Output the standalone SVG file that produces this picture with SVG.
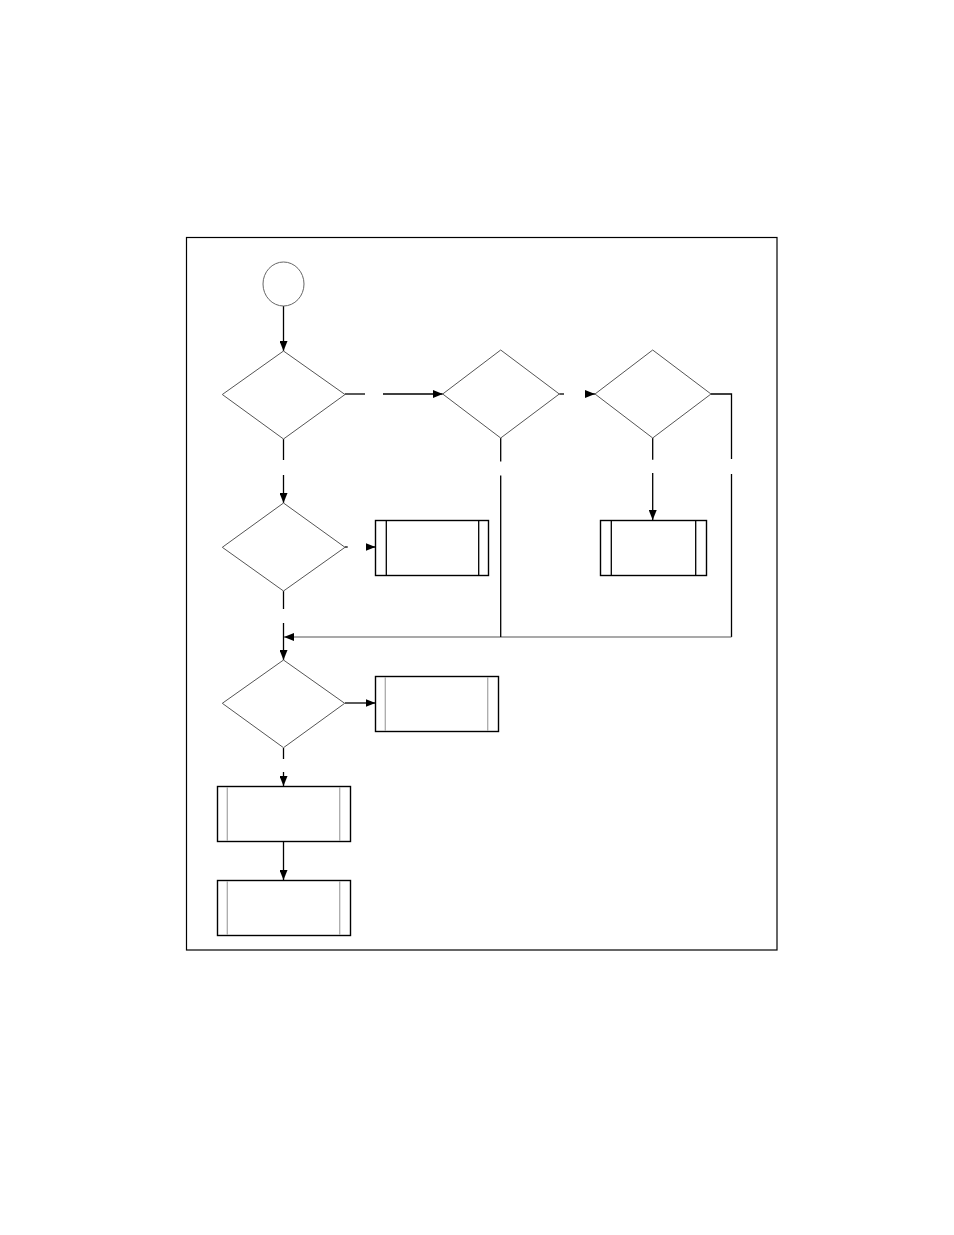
<svg xmlns="http://www.w3.org/2000/svg" width="954" height="1235" viewBox="0 0 954 1235">
<style>
.frame{fill:none;stroke:#000;stroke-width:1.2}
.dia{fill:#fff;stroke:#555;stroke-width:1}
.circ{fill:#fff;stroke:#666;stroke-width:1}
.box{fill:#fff;stroke:#000;stroke-width:1.4}
.inb{stroke:#000;stroke-width:1.3}
.ing{stroke:#aaa;stroke-width:1.3}
.c{fill:none;stroke:#000;stroke-width:1.3}
.cg{fill:none;stroke:#555;stroke-width:1.2}
</style>
<defs>
<marker id="ah" markerUnits="userSpaceOnUse" markerWidth="10" markerHeight="8" refX="10" refY="4" orient="auto">
<path d="M0,0 L10,4 L0,8 z" fill="#000"/>
</marker>
</defs>
<rect width="954" height="1235" fill="#fff"/>
<rect class="frame" x="186.5" y="237.5" width="590.5" height="712.5"/>
<g id="connectors">
<path class="c" d="M283.5,306 V351" marker-end="url(#ah)"/>
<path class="c" d="M345,394 H365"/>
<path class="c" d="M383,394 H442.7" marker-end="url(#ah)"/>
<path class="c" d="M559.3,394 H564"/>
<path class="c" d="M586,394 H595" marker-end="url(#ah)"/>
<path class="c" d="M711,394 H731.5 V459"/>
<path class="c" d="M731.5,474 V637"/>
<path class="cg" d="M731.5,637 H284" marker-end="url(#ah)"/>
<path class="c" d="M500.7,438 V461.5"/>
<path class="c" d="M500.7,475.5 V637"/>
<path class="c" d="M652.7,438 V459.7"/>
<path class="c" d="M652.7,473 V520" marker-end="url(#ah)"/>
<path class="c" d="M283.5,439 V460"/>
<path class="c" d="M283.5,475 V503" marker-end="url(#ah)"/>
<path class="c" d="M345,547 H347.7"/>
<path class="c" d="M366,547 H375.5" marker-end="url(#ah)"/>
<path class="c" d="M283.5,591 V609"/>
<path class="c" d="M283.5,623 V660" marker-end="url(#ah)"/>
<path class="c" d="M345,703 H375.5" marker-end="url(#ah)"/>
<path class="c" d="M283.5,748 V759"/>
<path class="c" d="M283.5,772 V786" marker-end="url(#ah)"/>
<path class="c" d="M283.5,841 V880" marker-end="url(#ah)"/>
</g>
<g id="start"><ellipse class="circ" cx="283.5" cy="284" rx="20.5" ry="22"/></g>
<g id="d1"><polygon class="dia" points="283.5,351 345,394.5 283.5,439 222.3,394.5"/></g>
<g id="d2"><polygon class="dia" points="500.7,350 559.3,394 500.7,438 442.7,394"/></g>
<g id="d3"><polygon class="dia" points="652.7,350 711,394 652.7,438 595,394"/></g>
<g id="d4"><polygon class="dia" points="283.5,503 345,547.3 283.5,591 222.3,547.3"/></g>
<g id="d5"><polygon class="dia" points="283.5,660 344.7,703.3 283.5,747.7 222.3,703.3"/></g>
<g id="boxA"><rect class="box" x="375.5" y="520.5" width="113" height="55"/><line class="inb" x1="386.3" y1="520.5" x2="386.3" y2="575.5"/><line class="inb" x1="478.7" y1="520.5" x2="478.7" y2="575.5"/></g>
<g id="boxE"><rect class="box" x="600.5" y="520.5" width="106" height="55"/><line class="inb" x1="611.3" y1="520.5" x2="611.3" y2="575.5"/><line class="inb" x1="695.7" y1="520.5" x2="695.7" y2="575.5"/></g>
<g id="boxB"><rect class="box" x="375.5" y="676.5" width="123" height="55"/><line class="ing" x1="385.3" y1="677" x2="385.3" y2="731"/><line class="ing" x1="487.7" y1="677" x2="487.7" y2="731"/></g>
<g id="boxC"><rect class="box" x="217.5" y="786.5" width="133" height="55"/><line class="ing" x1="227.3" y1="787" x2="227.3" y2="841"/><line class="ing" x1="339.7" y1="787" x2="339.7" y2="841"/></g>
<g id="boxD"><rect class="box" x="217.5" y="880.5" width="133" height="55"/><line class="ing" x1="227.3" y1="881" x2="227.3" y2="935"/><line class="ing" x1="339.7" y1="881" x2="339.7" y2="935"/></g>
</svg>
